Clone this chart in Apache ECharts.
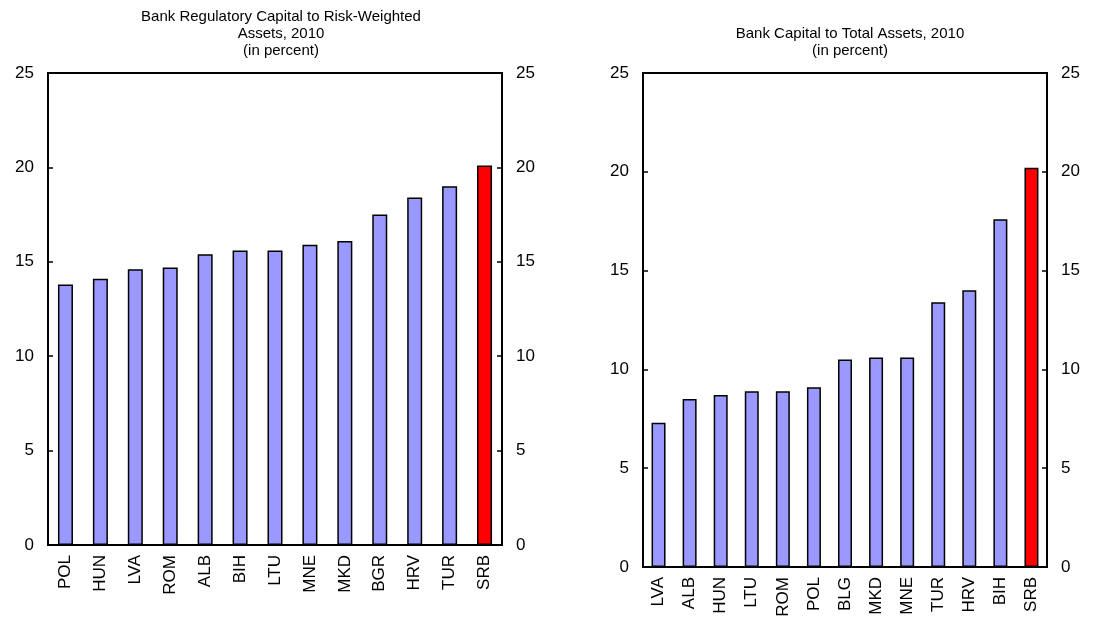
<!DOCTYPE html>
<html>
<head>
<meta charset="utf-8">
<script src="https://cdn.jsdelivr.net/npm/echarts@6/dist/echarts.min.js"></script>
<style>
  html, body { margin: 0; padding: 0; background: #fff; }
  #chart { width: 1119px; height: 624px; }
</style>
</head>
<body>
<div id="chart"></div>
<script>
// Left panel: regulatory capital to risk-weighted assets, 2010 (percent)
const leftCategories = ['POL', 'HUN', 'LVA', 'ROM', 'ALB', 'BIH', 'LTU', 'MNE', 'MKD', 'BGR', 'HRV', 'TUR', 'SRB'];
const leftValues = [13.8, 14.1, 14.6, 14.7, 15.4, 15.6, 15.6, 15.9, 16.1, 17.5, 18.4, 19.0, 20.1];

// Right panel: bank capital to total assets, 2010 (percent)
const rightCategories = ['LVA', 'ALB', 'HUN', 'LTU', 'ROM', 'POL', 'BLG', 'MKD', 'MNE', 'TUR', 'HRV', 'BIH', 'SRB'];
const rightValues = [7.3, 8.5, 8.7, 8.9, 8.9, 9.1, 10.5, 10.6, 10.6, 13.4, 14.0, 17.6, 20.2];

// Shared value-axis ticks
const yMin = 0, yMax = 25, yStep = 5;

const highlight = 'SRB';
const FONT = 'Liberation Sans, Arial, sans-serif';

function barData(cats, vals) {
  return vals.map((v, i) => ({
    value: v,
    itemStyle: { color: cats[i] === highlight ? '#FF0000' : '#9999FF' }
  }));
}

function xAxisFor(gridIndex, cats) {
  return {
    type: 'category',
    gridIndex: gridIndex,
    data: cats,
    axisLine: { lineStyle: { color: '#000', width: 2 } },
    axisTick: { inside: true, length: 4, lineStyle: { color: '#000', width: 1 } },
    axisLabel: { rotate: 90, margin: 10, color: '#000', fontSize: 17, fontFamily: FONT }
  };
}

function yAxisFor(gridIndex, position) {
  return {
    type: 'value',
    gridIndex: gridIndex,
    position: position,
    min: yMin, max: yMax, interval: yStep,
    axisLine: { show: true, lineStyle: { color: '#000', width: 2 } },
    axisTick: { show: true, inside: true, length: 5, lineStyle: { color: '#000', width: 1.5 } },
    axisLabel: { margin: 14, color: '#000', fontSize: 17, fontFamily: FONT },
    splitLine: { show: false }
  };
}

const chart = echarts.init(document.getElementById('chart'), null, { renderer: 'canvas' });

chart.setOption({
  animation: false,
  backgroundColor: '#fff',
  title: [
    {
      text: 'Bank Regulatory Capital to Risk-Weighted\nAssets, 2010\n(in percent)',
      left: 276, top: 3, textAlign: 'center',
      textStyle: { fontSize: 15, fontWeight: 'normal', color: '#000', fontFamily: FONT, lineHeight: 17 }
    },
    {
      text: 'Bank Capital to Total Assets, 2010\n(in percent)',
      left: 845, top: 20, textAlign: 'center',
      textStyle: { fontSize: 15, fontWeight: 'normal', color: '#000', fontFamily: FONT, lineHeight: 17 }
    }
  ],
  grid: [
    { left: 48, right: 617, top: 73, bottom: 79, show: true, borderColor: '#000', borderWidth: 2, backgroundColor: '#fff' },
    { left: 643, right: 72, top: 73, bottom: 57, show: true, borderColor: '#000', borderWidth: 2, backgroundColor: '#fff' }
  ],
  xAxis: [xAxisFor(0, leftCategories), xAxisFor(1, rightCategories)],
  yAxis: [yAxisFor(0, 'left'), yAxisFor(0, 'right'), yAxisFor(1, 'left'), yAxisFor(1, 'right')],
  series: [
    {
      type: 'bar', xAxisIndex: 0, yAxisIndex: 0,
      data: barData(leftCategories, leftValues),
      barWidth: '43%',
      itemStyle: { borderColor: '#000', borderWidth: 1.5 }
    },
    {
      type: 'bar', xAxisIndex: 1, yAxisIndex: 2,
      data: barData(rightCategories, rightValues),
      barWidth: '45%',
      itemStyle: { borderColor: '#000', borderWidth: 1.5 }
    }
  ]
});
</script>
</body>
</html>
